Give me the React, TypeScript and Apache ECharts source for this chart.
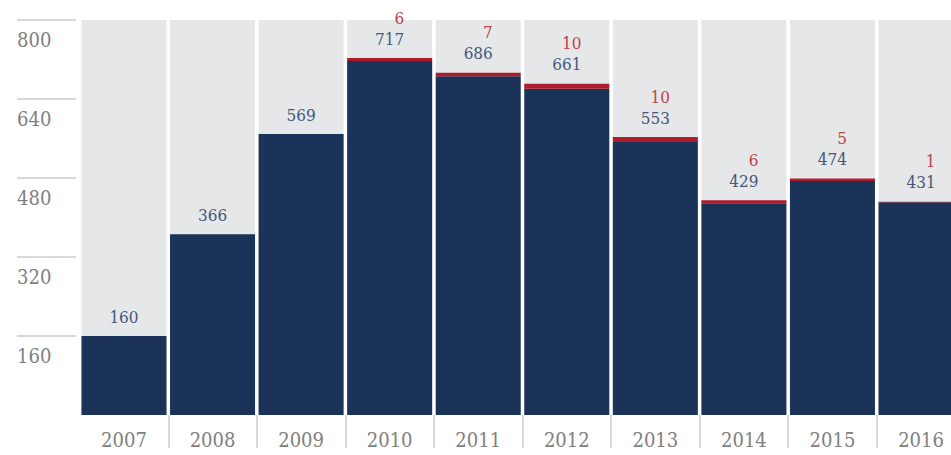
import React, { useEffect, useRef } from "react";
import * as echarts from "echarts";

const years = ["2007", "2008", "2009", "2010", "2011", "2012", "2013", "2014", "2015", "2016"];
const mainValues = [160, 366, 569, 717, 686, 661, 553, 429, 474, 431];
const extraValues = [0, 0, 0, 6, 7, 10, 10, 6, 5, 1];
const yTicks = [0, 160, 320, 480, 640, 800];

const FONT = "'DejaVu Serif Condensed', 'DejaVu Serif', serif";

export default function App() {
  const ref = useRef<HTMLDivElement>(null);
  useEffect(() => {
    document.body.style.margin = "0";
    const chart = echarts.init(ref.current!, null, { renderer: "svg" });
    const yMax = yTicks[yTicks.length - 1];
    const yStep = yTicks[1] - yTicks[0];
    chart.setOption({
      animation: false,
      grid: [
        { left: 79.7, width: 885.6, top: 20, bottom: 40 },
        { left: 17, width: 59, top: 20, bottom: 40 },
      ],
      xAxis: [
        {
          type: "category",
          data: years,
          gridIndex: 0,
          axisLine: { show: false },
          axisTick: {
            show: true,
            length: 33,
            lineStyle: { color: "#d9d9d9", width: 2 },
            interval: (i: number) => i !== 0,
          },
          axisLabel: { color: "#808080", fontSize: 20, fontFamily: FONT, margin: 15 },
        },
        { type: "value", gridIndex: 1, show: false },
      ],
      yAxis: [
        { type: "value", gridIndex: 0, min: 0, max: yMax, interval: yStep, show: false },
        {
          type: "value",
          gridIndex: 1,
          min: 0,
          max: yMax,
          interval: yStep,
          axisLine: { show: false },
          axisTick: { show: false },
          splitLine: { show: true, showMinLine: false, lineStyle: { color: "#d9d9d9", width: 2 } },
          axisLabel: {
            inside: true,
            margin: 0,
            showMinLabel: false,
            color: "#808080",
            fontSize: 20,
            fontFamily: FONT,
            align: "left",
            verticalAlign: "top",
            lineHeight: 20,
            padding: [10, 0, 0, 0],
          },
        },
      ],
      series: [
        {
          type: "bar",
          stack: "total",
          data: mainValues,
          barCategoryGap: "4%",
          itemStyle: { color: "#1c3359" },
          showBackground: true,
          backgroundStyle: { color: "#e6e7e9" },
          xAxisIndex: 0,
          yAxisIndex: 0,
        },
        {
          type: "bar",
          stack: "total",
          data: extraValues,
          barCategoryGap: "4%",
          itemStyle: { color: "#ae1c2c" },
          xAxisIndex: 0,
          yAxisIndex: 0,
          label: {
            show: true,
            position: "top",
            distance: 9,
            fontFamily: FONT,
            formatter: (p: any) => {
              const i = p.dataIndex;
              const r = extraValues[i];
              return r > 0 ? `{r|${r}}\n{n|${mainValues[i]}}` : `{n|${mainValues[i]}}`;
            },
            rich: {
              r: { color: "#c0404c", fontSize: 17, lineHeight: 21, align: "right", fontFamily: FONT },
              n: { color: "#44587c", fontSize: 17, lineHeight: 21, fontFamily: FONT },
            },
          },
        },
      ],
    });
    return () => chart.dispose();
  }, []);
  return (
    <div style={{ width: 951, height: 455, overflow: "hidden" }}>
      <div ref={ref} style={{ width: 966, height: 455 }} />
    </div>
  );
}
